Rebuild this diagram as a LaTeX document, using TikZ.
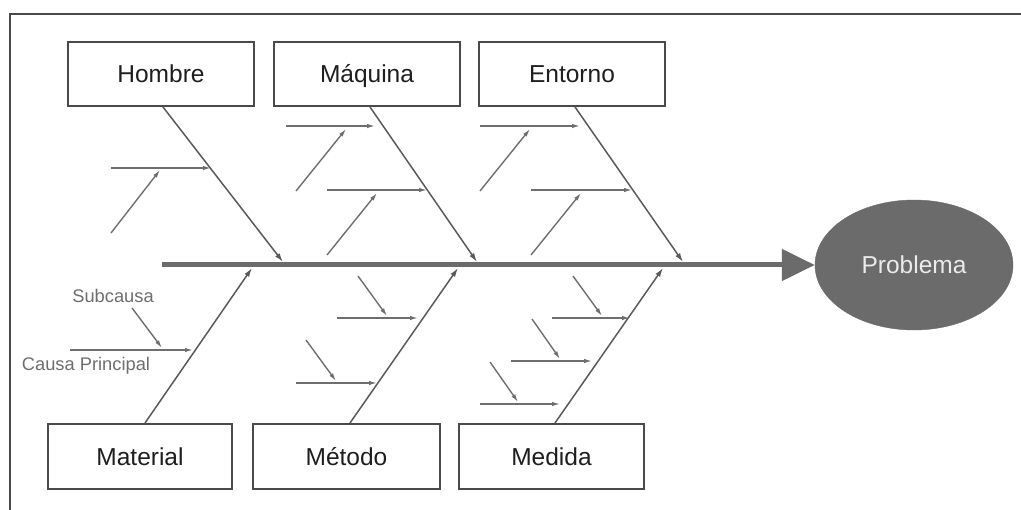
\documentclass[tikz,border=0pt]{standalone}
\usepackage{fontspec}
\setmainfont{Liberation Sans}
\usetikzlibrary{arrows.meta,shapes.geometric}
\definecolor{boxc}{HTML}{4A4A4A}
\definecolor{bonec}{HTML}{5A5A5A}
\definecolor{subc}{HTML}{6E6E6E}
\definecolor{probc}{HTML}{6B6B6B}
\definecolor{txtc}{HTML}{1E1E1E}
\begin{document}
\begin{tikzpicture}[x=1pt,y=-1pt,
  catbox/.style={draw=boxc,line width=2pt,fill=white,minimum height=64pt,inner sep=0pt,
    font=\fontsize{24.5}{27}\selectfont,text=txtc,text height=17.5pt,text depth=0pt},
  bone/.style={draw=bonec,line width=1.5pt,-{Latex[length=9pt,width=5.5pt]}},
  subarrow/.style={draw=subc,line width=1.4pt,-{Latex[length=8pt,width=4.5pt]}},
  spine/.style={draw=probc,line width=5pt,-{Triangle[length=33pt,width=31pt]}},
  small/.style={font=\fontsize{18.3}{21}\selectfont,text=subc,inner sep=0pt},
  frame/.style={draw=boxc,line width=1.2pt}]
\useasboundingbox (0,0) rectangle (1021,510);
% frame
\coordinate (fbl) at (10,510);
\coordinate (ftl) at (10,14);
\coordinate (ftr) at (1021,14);
\draw[frame] (fbl) -- (ftl) -- (ftr);
% boxes
\node[catbox,minimum width=186pt] (hom) at (161,74) {Hombre};
\node[catbox,minimum width=186pt] (maq) at (367,74) {Máquina};
\node[catbox,minimum width=186pt] (ent) at (572,74) {Entorno};
\node[catbox,minimum width=184pt,minimum height=65pt] (mat) at (140,456.5) {Material};
\node[catbox,minimum width=187pt,minimum height=65pt] (met) at (346.5,456.5) {Método};
\node[catbox,minimum width=185pt,minimum height=65pt] (med) at (551.5,456.5) {Medida};
% problem
\node[ellipse,fill=probc,draw=probc,minimum width=198pt,minimum height=130pt,inner sep=0pt,
  font=\fontsize{24.5}{27}\selectfont,text=white!92!black,text height=17.5pt,text depth=0pt] (prob) at (914,265) {Problema};
% spine
\coordinate (s0) at (162,265);
\draw[spine] (s0) -- (prob.west);
% bone endpoints
\coordinate (eh) at (283,262);
\coordinate (eq) at (477,262);
\coordinate (ee) at (683,262);
\coordinate (em) at (252,268);
\coordinate (et) at (458,268);
\coordinate (ed) at (663,268);
\draw[bone] ([xshift=2pt]hom.south) -- (eh);
\draw[bone] ([xshift=3pt]maq.south) -- (eq);
\draw[bone] ([xshift=3pt]ent.south) -- (ee);
\draw[bone] ([xshift=5pt]mat.north) -- (em);
\draw[bone] ([xshift=3.5pt]met.north) -- (et);
\draw[bone] ([xshift=3.5pt]med.north) -- (ed);
% Hombre subcauses
\draw[subarrow] (111,168) -- (211,168);
\draw[subarrow] (111,233) -- (160,170);
% Maquina subcauses
\draw[subarrow] (286,126) -- (375,126);
\draw[subarrow] (296,191) -- (346,129);
\draw[subarrow] (327,190) -- (427,190);
\draw[subarrow] (327,255) -- (377,193);
% Entorno subcauses
\draw[subarrow] (480,126) -- (580,126);
\draw[subarrow] (480,191) -- (530,129);
\draw[subarrow] (531,190) -- (632,190);
\draw[subarrow] (531,255) -- (581,193);
% Material subcauses
\draw[subarrow] (70,350) -- (193,350);
\draw[subarrow] (132,308) -- (162,348);
% Metodo subcauses
\draw[subarrow] (337,318) -- (418,318);
\draw[subarrow] (358,276) -- (387,316);
\draw[subarrow] (296,383) -- (377,383);
\draw[subarrow] (306,340) -- (336,381);
% Medida subcauses
\draw[subarrow] (552,318) -- (630,318);
\draw[subarrow] (573,276) -- (602,316);
\draw[subarrow] (511,361) -- (592,361);
\draw[subarrow] (532,319) -- (560,359);
\draw[subarrow] (480,404) -- (560,404);
\draw[subarrow] (490,362) -- (518,402);
% labels
\node[small] (lsub) at (113,296) {Subcausa};
\node[small] (lcau) at (86,366) {Causa Principal};
\end{tikzpicture}
\end{document}
